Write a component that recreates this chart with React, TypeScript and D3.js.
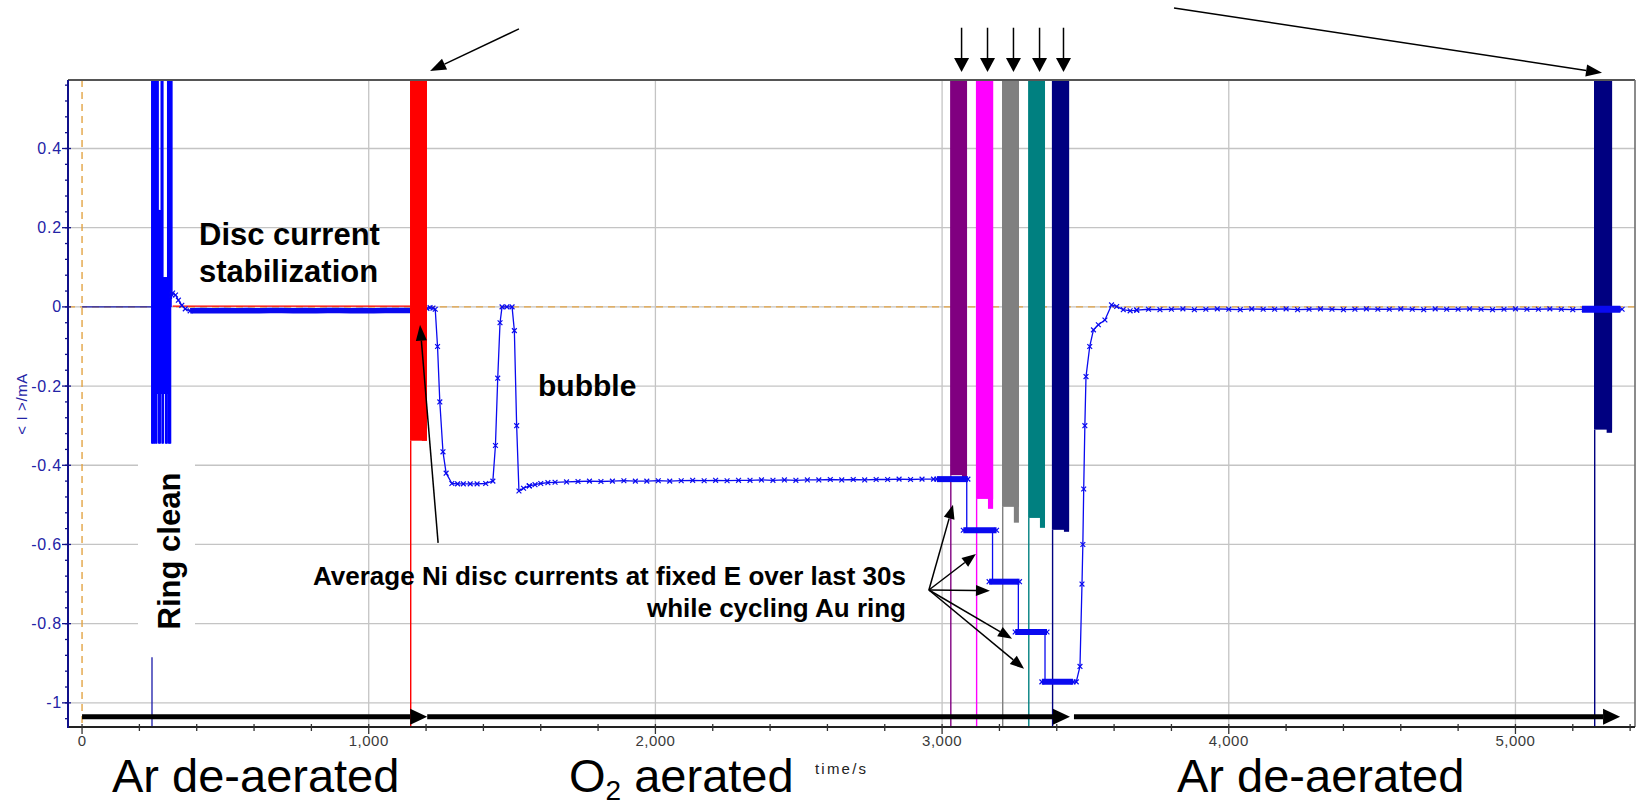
import React, { useRef, useEffect } from "react";
import * as d3 from "d3";

// disc current <I> (mA) against time (s)
const preClean: [number, number][] = [[0, 0], [243, 0]];

// ring clean sweeps: [time, lowest current, highest current]
const ringCleanSweeps: [number, number, number][] = [
  [243, -0.345, 0.8], [244.5, -0.345, 0.8], [246, -0.345, 0.8], [247.5, -0.345, 0.8],
  [249, -0.345, 0.8], [250.5, -0.34, 0.8], [252, -0.345, 0.8], [253.5, -0.345, 0.8],
  [255, -0.345, 0.8], [256.5, -0.34, 0.8], [258, -0.345, 0.8], [259.5, -0.345, 0.8],
  [261, -0.345, 0.8], [262.5, -0.22, 0.8], [264, -0.22, 0.8], [265.5, -0.22, 0.8],
  [267, -0.345, 0.245], [268.5, -0.345, 0.245], [270, -0.345, 0.245], [271.5, -0.345, 0.245],
  [273, -0.345, 0.245], [274.5, -0.22, 0.245], [276, -0.22, 0.8], [277.5, -0.22, 0.8],
  [279, -0.345, 0.8], [280.5, -0.345, 0.8], [282, -0.345, 0.8], [283.5, -0.345, 0.075],
  [285, -0.22, 0.075], [286.5, -0.22, 0.075], [288, -0.22, 0.075], [289.5, -0.22, 0.075],
  [291, -0.345, 0.075], [292.5, -0.345, 0.075], [294, -0.345, 0.075], [295.5, -0.345, 0.075],
  [297, -0.345, 0.075], [298.5, -0.22, 0.8], [300, -0.22, 0.8], [301.5, -0.345, 0.8],
  [303, -0.345, 0.8], [304.5, -0.345, 0.8], [306, -0.345, 0.8], [307.5, -0.345, 0.8],
  [309, -0.345, 0.8], [310.5, 0.0, 0.8], [312, 0.02, 0.8], [313.5, 0.03, 0.8],
];
const ringCleanTail: [number, number][] = [[244, -0.885], [244, -1.07]];

const settle: [number, number][] = [
  [313.5, 0.03], [316, 0.035], [326, 0.03], [336, 0.017], [348, 0.004], [360, -0.005], [377, -0.01],
];

const stabilization: [number, number][] = [
  [377, -0.01], [417, -0.009], [457, -0.01], [497, -0.009], [537, -0.01], [577, -0.009],
  [617, -0.01], [657, -0.009], [697, -0.009], [737, -0.01], [777, -0.009], [817, -0.01],
  [857, -0.009], [897, -0.009], [937, -0.01], [977, -0.009], [1017, -0.01], [1057, -0.009],
  [1097, -0.009], [1144, -0.009],
];

// ring current resting at zero during stabilization
const ringZero: [number, number][] = [[316, 0.002], [1144, 0.002]];

const bubble: [number, number][] = [
  [1144, -0.009], [1203, -0.004], [1214, -0.002], [1224, -0.003], [1232, -0.006], [1240, -0.1],
  [1248, -0.24], [1259, -0.366], [1270, -0.42], [1290, -0.446], [1310, -0.447], [1330, -0.447],
  [1354, -0.447], [1378, -0.447], [1408, -0.446], [1433, -0.44], [1442, -0.35], [1450, -0.18],
  [1458, -0.04], [1465, 0.0], [1482, 0.0], [1500, 0.0], [1508, -0.06], [1516, -0.3],
  [1524, -0.465], [1540, -0.458], [1560, -0.452],
];

const o2Plateau: [number, number][] = [
  [1560, -0.452], [1580, -0.449], [1600, -0.446], [1625, -0.444], [1650, -0.443], [1690, -0.442],
  [1730, -0.441], [1770, -0.44], [1810, -0.441], [1850, -0.44], [1890, -0.439], [1930, -0.44],
  [1970, -0.44], [2010, -0.439], [2050, -0.44], [2090, -0.439], [2130, -0.438], [2170, -0.439],
  [2210, -0.438], [2250, -0.439], [2290, -0.438], [2330, -0.438], [2370, -0.437], [2410, -0.438],
  [2450, -0.437], [2490, -0.438], [2530, -0.437], [2570, -0.437], [2610, -0.436], [2650, -0.437],
  [2690, -0.436], [2730, -0.437], [2770, -0.436], [2810, -0.436], [2850, -0.435], [2890, -0.436],
  [2930, -0.435], [2970, -0.435],
];

const staircase: [number, number][] = [
  [2970, -0.435], [3086, -0.435], [3086, -0.564], [3176, -0.564], [3176, -0.694], [3266, -0.694],
  [3266, -0.821], [3359, -0.821], [3359, -0.947], [3468, -0.947],
];

// averaged disc current levels while the ring was cycled
const stepStart = [2982, 3074, 3164, 3255, 3348];
const stepEnd = [3090, 3190, 3270, 3366, 3457];
const stepLevel = [-0.435, -0.564, -0.694, -0.821, -0.947];

const recovery: [number, number][] = [
  [3468, -0.947], [3481, -0.908], [3488, -0.7], [3491, -0.6], [3494, -0.46], [3498, -0.3],
  [3502, -0.176], [3515, -0.1], [3528, -0.058], [3545, -0.045], [3568, -0.033], [3591, 0.005],
  [3609, 0.001], [3632, -0.007], [3656, -0.01], [3679, -0.008],
];

const postAr: [number, number][] = [
  [3679, -0.008], [3720, -0.006], [3760, -0.007], [3800, -0.006], [3840, -0.005], [3880, -0.007],
  [3920, -0.006], [3960, -0.005], [4000, -0.006], [4040, -0.007], [4080, -0.005], [4120, -0.006],
  [4160, -0.006], [4200, -0.005], [4240, -0.007], [4280, -0.006], [4320, -0.005], [4360, -0.006],
  [4400, -0.007], [4440, -0.006], [4480, -0.005], [4520, -0.006], [4560, -0.006], [4600, -0.005],
  [4640, -0.006], [4680, -0.007], [4720, -0.005], [4760, -0.006], [4800, -0.006], [4840, -0.005],
  [4880, -0.006], [4920, -0.007], [4960, -0.006], [5000, -0.005], [5040, -0.006], [5080, -0.006],
  [5120, -0.005], [5160, -0.006], [5200, -0.007], [5240, -0.006], [5280, -0.006], [5320, -0.006],
  [5372, -0.006],
];
const finalBand: [number, number][] = [[5232, -0.006], [5366, -0.006]];

// ring potential cycling blocks
const blockStart = [1144, 3028, 3118, 3209, 3300, 3383, 5274];
const blockEnd = [1203, 3087, 3178, 3268, 3359, 3443, 5337];
const blockLow = [-0.338, -0.425, -0.485, -0.505, -0.533, -0.563, -0.31];
const blockLowTail = [-0.338, -0.432, -0.51, -0.545, -0.558, -0.568, -0.318];
const blockColors = ["#ff0000", "#800080", "#ff00ff", "#808080", "#008080", "#000080", "#000080"];

const xTicks = [0, 1000, 2000, 3000, 4000, 5000];
const yTicks = [0.4, 0.2, 0, -0.2, -0.4, -0.6, -0.8, -1];

const FONT = "'Liberation Sans', Arial, Helvetica, sans-serif";

function App() {
  const svgRef = useRef<SVGSVGElement>(null);

  useEffect(() => {
    const svg = d3.select(svgRef.current);
    svg.selectAll("*").remove();
    const width = 1637;
    const height = 808;
    const margin = { top: 80, right: 2, bottom: 81, left: 68 };

    const x = d3.scaleLinear().domain([-49, 5417]).range([margin.left, width - margin.right]);
    const y = d3.scaleLinear().domain([-1.061, 0.573]).range([height - margin.bottom, margin.top]);
    const left = margin.left, right = width - margin.right;
    const top = margin.top, bottom = height - margin.bottom;

    svg.append("rect").attr("width", width).attr("height", height).attr("fill", "#fff");

    svg.append("defs").append("clipPath").attr("id", "plot")
      .append("rect").attr("x", left).attr("y", top).attr("width", right - left).attr("height", bottom - top);

    // grid
    const grid = svg.append("g").attr("stroke", "#c4c4c4").attr("stroke-width", 1.3);
    xTicks.filter((d) => d > 0).forEach((d) => {
      grid.append("line").attr("x1", x(d)).attr("x2", x(d)).attr("y1", top).attr("y2", bottom);
    });
    yTicks.forEach((d) => {
      grid.append("line").attr("x1", left).attr("x2", right).attr("y1", y(d)).attr("y2", y(d));
    });

    const plot = svg.append("g").attr("clip-path", "url(#plot)");
    const line = d3.line<[number, number]>().x((d) => x(d[0])).y((d) => y(d[1]));

    // zero reference lines
    plot.append("line").attr("x1", left).attr("x2", right).attr("y1", y(0)).attr("y2", y(0))
      .attr("stroke", "#e3a445").attr("stroke-width", 1.4).attr("stroke-dasharray", "7,5");
    plot.append("line").attr("x1", x(0)).attr("x2", x(0)).attr("y1", top).attr("y2", bottom)
      .attr("stroke", "#e3a445").attr("stroke-width", 1.4).attr("stroke-dasharray", "7,5");

    const drawBlock = (i: number) => {
      const x0 = x(blockStart[i]), x1 = x(blockEnd[i]);
      plot.append("rect").attr("x", x0).attr("y", top)
        .attr("width", x1 - x0).attr("height", y(blockLow[i]) - top).attr("fill", blockColors[i]);
      const xt = x(blockStart[i] + 0.7 * (blockEnd[i] - blockStart[i]));
      plot.append("rect").attr("x", xt).attr("y", top)
        .attr("width", x1 - xt).attr("height", y(blockLowTail[i]) - top).attr("fill", blockColors[i]);
      plot.append("line").attr("x1", x0 + 0.7).attr("x2", x0 + 0.7)
        .attr("y1", y(blockLow[i])).attr("y2", bottom)
        .attr("stroke", blockColors[i]).attr("stroke-width", 1.4);
    };
    blockStart.forEach((_, i) => { if (i > 0) drawBlock(i); });

    const blue = "#0a0af0";
    const path = (pts: [number, number][], w: number, color = blue) =>
      plot.append("path").attr("d", line(pts)).attr("fill", "none")
        .attr("stroke", color).attr("stroke-width", w).attr("stroke-linejoin", "round");
    const markers = (pts: [number, number][]) => {
      plot.append("g").selectAll("path").data(pts).join("path")
        .attr("transform", (d) => `translate(${x(d[0])},${y(d[1])})`)
        .attr("d", "M-2.4,-2.4L2.4,2.4M-2.4,2.4L2.4,-2.4")
        .attr("stroke", blue).attr("stroke-width", 1.2).attr("fill", "none");
    };

    path(preClean, 1.3, "#1a1aa8");
    plot.append("g").selectAll("line").data(ringCleanSweeps).join("line")
      .attr("x1", (d) => x(d[0])).attr("x2", (d) => x(d[0]))
      .attr("y1", (d) => y(d[1])).attr("y2", (d) => y(d[2]))
      .attr("stroke", "#0000ff").attr("stroke-width", 1.3);
    path(ringCleanTail, 1.3, "#1a1aa8");
    path(ringZero, 1.2, "#ff0000");
    path(settle, 1.3);
    markers(settle);
    path(stabilization, 5.5);
    path(bubble, 1.3);
    markers(bubble.slice(1));
    path(o2Plateau, 1.3);
    markers(o2Plateau);
    path(staircase, 1.3);
    stepLevel.forEach((v, i) => {
      const band: [number, number][] = [[stepStart[i], v], [stepEnd[i], v]];
      path(band, 6);
      markers(band);
    });
    path(recovery, 1.3);
    markers(recovery);
    path(postAr, 1.3);
    markers(postAr);
    path(finalBand, 7);

    drawBlock(0);

    // frame and axes
    svg.append("line").attr("x1", left).attr("x2", right).attr("y1", top).attr("y2", top)
      .attr("stroke", "#555").attr("stroke-width", 2);
    svg.append("line").attr("x1", right).attr("x2", right).attr("y1", top).attr("y2", bottom)
      .attr("stroke", "#6e6e6e").attr("stroke-width", 1.6);
    svg.append("line").attr("x1", left).attr("x2", right).attr("y1", bottom).attr("y2", bottom)
      .attr("stroke", "#222").attr("stroke-width", 2);
    svg.append("line").attr("x1", left).attr("x2", left).attr("y1", top).attr("y2", bottom + 1)
      .attr("stroke", "#10108a").attr("stroke-width", 2);

    const axis = svg.append("g");
    d3.range(0, 5401, 200).forEach((d) => {
      const major = d % 1000 === 0;
      axis.append("line").attr("x1", x(d)).attr("x2", x(d))
        .attr("y1", bottom - 3).attr("y2", bottom + (major ? 7 : 4))
        .attr("stroke", "#333").attr("stroke-width", 1.3);
    });
    xTicks.forEach((d) => {
      axis.append("text").attr("x", x(d)).attr("y", bottom + 19).attr("text-anchor", "middle")
        .attr("font-family", FONT).attr("font-size", 15).attr("letter-spacing", 0.5)
        .attr("fill", "#3a3a3a").text(d3.format(",")(d));
    });
    d3.range(-1.04, 0.57, 0.04).forEach((d) => {
      axis.append("line").attr("x1", left - 3).attr("x2", left)
        .attr("y1", y(d)).attr("y2", y(d)).attr("stroke", "#10108a").attr("stroke-width", 1.3);
    });
    yTicks.forEach((d) => {
      axis.append("line").attr("x1", left - 6).attr("x2", left + 3)
        .attr("y1", y(d)).attr("y2", y(d)).attr("stroke", "#10108a").attr("stroke-width", 1.3);
      axis.append("text").attr("x", left - 6).attr("y", y(d) + 5.5).attr("text-anchor", "end")
        .attr("font-family", FONT).attr("font-size", 16).attr("letter-spacing", 0.8)
        .attr("fill", "#2323a6").text(String(d));
    });
    axis.append("text").attr("transform", `translate(27,${y(-0.245)}) rotate(-90)`)
      .attr("text-anchor", "middle").attr("font-family", FONT).attr("font-size", 15)
      .attr("letter-spacing", 0.6).attr("fill", "#2323a6").text("< I >/mA");

    // arrows
    const ann = svg.append("g");
    const arrow = (x1: number, y1: number, x2: number, y2: number, w: number, hl: number, hw: number) => {
      const a = Math.atan2(y2 - y1, x2 - x1);
      const bx = x2 - hl * Math.cos(a), by = y2 - hl * Math.sin(a);
      const nx = -Math.sin(a) * hw / 2, ny = Math.cos(a) * hw / 2;
      ann.append("line").attr("x1", x1).attr("y1", y1).attr("x2", bx).attr("y2", by)
        .attr("stroke", "#000").attr("stroke-width", w);
      ann.append("path").attr("d", `M${x2},${y2}L${bx + nx},${by + ny}L${bx - nx},${by - ny}Z`).attr("fill", "#000");
    };

    // gas phases along the time axis
    const phaseY = y(-1.035);
    arrow(x(0), phaseY, x(1204), phaseY, 5, 17, 16);
    arrow(x(1204), phaseY, x(3446), phaseY, 5, 17, 16);
    arrow(x(3460), phaseY, x(5365), phaseY, 5, 17, 16);

    arrow(x(1524), y(0.702), x(1214), y(0.596), 1.5, 16, 12);
    arrow(x(3809), y(0.755), x(5302), y(0.591), 1.5, 16, 12);
    blockStart.slice(1, 6).forEach((s, i) => {
      const cx = x((s + blockEnd[i + 1]) / 2) + 3;
      arrow(cx, y(0.705), cx, y(0.593), 1.5, 14, 15);
    });
    arrow(x(1242), y(-0.596), x(1179), y(-0.045), 1.5, 16, 11);
    const fx = x(2954), fy = y(-0.715);
    arrow(fx, fy, x(3038), y(-0.5), 1.5, 14, 11);
    arrow(fx, fy, x(3118), y(-0.624), 1.5, 14, 11);
    arrow(fx, fy, x(3167), y(-0.717), 1.5, 14, 11);
    arrow(fx, fy, x(3244), y(-0.838), 1.5, 14, 11);
    arrow(fx, fy, x(3286), y(-0.914), 1.5, 14, 11);

    // annotation text
    const bold = (tx: number, ty: number, size: number, s: string, anchor = "start") =>
      ann.append("text").attr("x", tx).attr("y", ty).attr("font-family", FONT)
        .attr("font-weight", "bold").attr("font-size", size).attr("text-anchor", anchor).text(s);
    bold(199, 245, 31, "Disc current");
    bold(199, 282, 31, "stabilization");
    bold(538, 396, 30, "bubble");
    bold(906, 585, 26, "Average Ni disc currents at fixed E over last 30s", "end");
    bold(906, 617, 26, "while cycling Au ring", "end");

    ann.append("rect").attr("x", 138).attr("y", 445).attr("width", 57).attr("height", 212).attr("fill", "#fff");
    ann.append("text").attr("transform", "translate(180,551) rotate(-90)")
      .attr("font-family", FONT).attr("font-weight", "bold").attr("font-size", 31)
      .attr("text-anchor", "middle").text("Ring clean");

    const big = (tx: number, s: string) =>
      ann.append("text").attr("x", tx).attr("y", 792).attr("font-family", FONT)
        .attr("font-size", 47).text(s);
    big(112, "Ar de-aerated");
    big(1177, "Ar de-aerated");
    const o2 = ann.append("text").attr("x", 569).attr("y", 792).attr("font-family", FONT).attr("font-size", 47);
    o2.append("tspan").text("O");
    o2.append("tspan").attr("font-size", 28).attr("dy", 8).text("2");
    o2.append("tspan").attr("dy", -8).text(" aerated");
    ann.append("text").attr("x", 815).attr("y", 774).attr("font-family", FONT)
      .attr("font-size", 15).attr("letter-spacing", 2.2).attr("fill", "#222").text("time/s");
  }, []);

  return (
    <svg ref={svgRef} width={1637} height={808}
      style={{ position: "absolute", left: 0, top: 0, display: "block" }}></svg>
  );
}

export default App;
